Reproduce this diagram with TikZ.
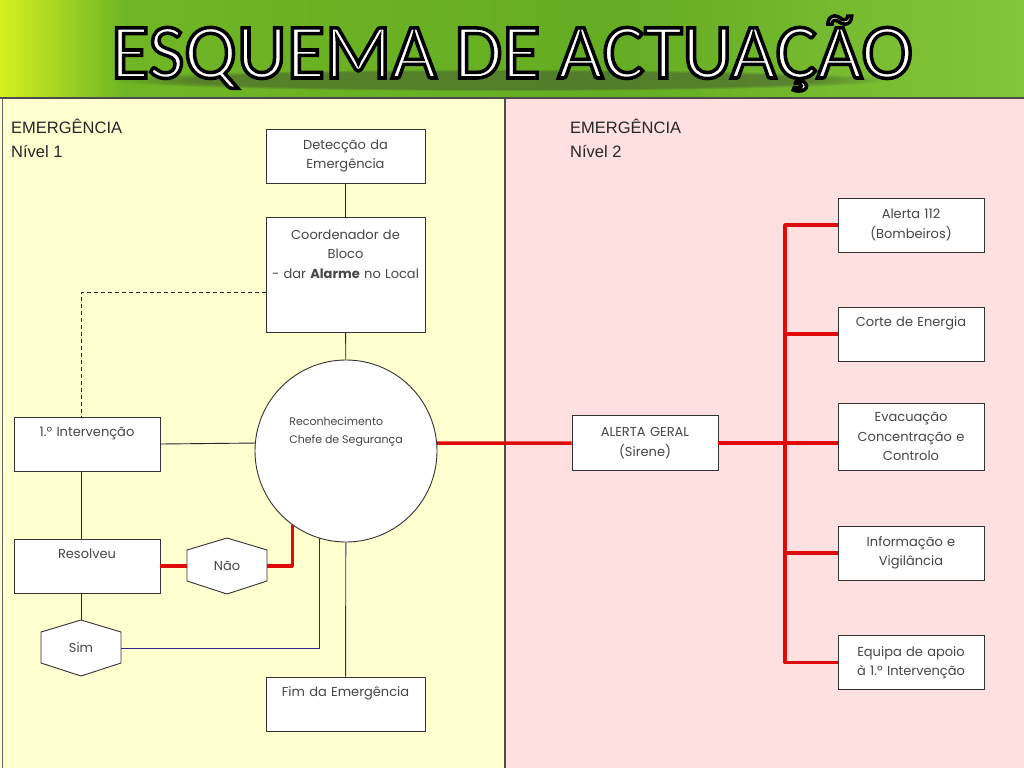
\documentclass[tikz,border=0pt]{standalone}
\usepackage{fontspec}
\setmainfont{Poppins}
\newfontfamily\titlefont{Carlito}
\newfontfamily\panelfont{Liberation Sans}
\usetikzlibrary{shapes.geometric,fadings}

\definecolor{painelamarelo}{RGB}{255,255,208}
\definecolor{painelrosa}{RGB}{255,224,224}
\definecolor{linhavermelha}{RGB}{225,10,10}
\definecolor{linhaazul}{RGB}{40,40,140}
\definecolor{textocaixa}{RGB}{70,70,70}
\definecolor{verdeA}{RGB}{212,240,32}
\definecolor{verdeB}{RGB}{112,182,36}
\definecolor{verdeC}{RGB}{100,172,34}
\definecolor{verdeD}{RGB}{132,198,58}
\definecolor{sombra}{RGB}{60,70,50}
\pgfdeclarehorizontalshading{faixaverde}{100bp}{color(0bp)=(verdeA); color(25bp)=(verdeA); color(31bp)=(verdeB); color(55bp)=(verdeC); color(75bp)=(verdeD); color(100bp)=(verdeD)}

\newcommand\boxfont{\fontsize{13}{19.5}\selectfont}
\newcommand\circfont{\fontsize{11}{18}\selectfont}

\begin{document}
\begin{tikzpicture}[x=1pt, y=-1pt,
    box/.style={rectangle, draw=black!80, fill=white, line width=0.9pt, minimum width=146pt, minimum height=54pt, text width=140pt, align=center, inner sep=0pt, font=\boxfont, text=textocaixa},
    topbox/.style={box, text height=19pt, text depth=#1},
    hexa/.style={minimum width=80pt, minimum height=56pt, inner sep=0pt, font=\boxfont, text=textocaixa},
    hexline/.style={draw=black!80, fill=white, line width=0.9pt},
    line/.style={draw=black!85, line width=0.9pt},
    dashline/.style={draw=black!85, line width=0.9pt, dash pattern=on 4pt off 3pt},
    redline/.style={draw=linhavermelha, line width=3.5pt, line join=round},
    blueline/.style={draw=linhaazul, line width=0.9pt},
    panel/.style={font=\panelfont\fontsize{16.5}{24}\selectfont, text=black!85, align=left, inner sep=0pt, anchor=base west}
]
\useasboundingbox (0,0) rectangle (1024,768);

% Title band and panels
\shade[shading=faixaverde] (0,0) rectangle (1024,98);
\fill[sombra, opacity=0.45, path fading=circle with fuzzy edge 20 percent] (500,80) ellipse [x radius=390, y radius=11];
\fill[painelamarelo] (0,98) rectangle (505,768);
\fill[painelrosa] (505,98) rectangle (1024,768);
\draw[black!70, line width=1.5pt] (0,98) -- (1024,98);
\draw[black!70, line width=1.5pt] (505,98) -- (505,768);
\draw[black!60, line width=1pt] (2,98) -- (2,768);

\node[anchor=base, inner sep=0pt, font=\titlefont\fontsize{78}{80}\selectfont] (titulo) at (512,78)
  {\color{white}\special{pdf:literal direct 2 Tr 3.5 w 0 G}ESQUEMA DE ACTUAÇÃO\special{pdf:literal direct 0 Tr}};

\node[panel] (nivel1) at (11,157) {EMERGÊNCIA\\Nível 1};
\node[panel] (nivel2) at (570,157) {EMERGÊNCIA\\Nível 2};

% Level 1 column
\node[box, minimum width=159pt] (detec) at (345.5,156) {Detecção da\\Emergência};
\node[topbox=93pt, minimum width=159pt, text width=155pt, text height=22pt] (coord) at (345.5,274.5) {Coordenador de\\Bloco\\- dar \textbf{Alarme} no Local};
\node[circle, draw=black!80, fill=white, line width=0.9pt, minimum size=182pt, inner sep=0pt, font=\circfont, text=textocaixa, align=left, text height=8pt, text depth=24pt] (chefe) at (346,451) {Reconhecimento\\Chefe de Segurança};
\node[topbox=35pt] (interv) at (87,444) {1.º Intervenção};
\node[topbox=35pt] (resolveu) at (87,566) {Resolveu};
\node[topbox=35pt, minimum width=159pt] (fim) at (345.5,704) {Fim da Emergência};

\foreach \nome/\px/\py/\txt in {nao/227/566/Não, sim/81/648/Sim} {
  \filldraw[hexline] (\px,\py) ++(0,-28) -- ++(40,12) -- ++(0,31) -- ++(-40,13) -- ++(-40,-13) -- ++(0,-31) -- cycle;
  \node[hexa] (\nome) at (\px,\py) {\txt};
}

% Level 2 column
\node[box, minimum height=55pt] (alerta) at (645,443) {ALERTA GERAL\\(Sirene)};
\node[box] (bomb) at (911,225) {Alerta 112\\(Bombeiros)};
\node[topbox=35pt] (energia) at (911,334) {Corte de Energia};
\node[box, minimum height=67pt] (evac) at (911,436.5) {Evacuação\\Concentração e\\Controlo};
\node[box] (info) at (911,553) {Informação e\\Vigilância};
\node[box] (apoio) at (911,662.5) {Equipa de apoio\\à 1.º Intervenção};
\coordinate (tronco) at (785,443);

% Level 1 connectors
\draw[line] (detec) -- (coord);
\draw[line] (coord) -- (chefe);
\draw[dashline] ([yshift=-18pt]coord.west) -| (interv.north -| sim);
\draw[line] (interv.east) -- (chefe.175);
\draw[line] (interv.south -| sim) -- (resolveu.north -| sim);
\draw[line] (resolveu.south -| sim) -- (sim.north);
\draw[redline] (resolveu.east) -- (nao.west);
\draw[redline] (nao.east) -| (chefe.234);
\draw[blueline] (sim.east) -| (chefe.253);
\draw[blueline] (chefe) -- (fim);

% Level 2 connectors
\draw[redline] (chefe.5) -- (alerta.west);
\draw[redline] (alerta.east) -- (alerta.east -| evac.west);
\draw[redline] (bomb.west) -| (apoio.west -| tronco) -- (apoio.west);
\foreach \n in {energia, info}
  \draw[redline] (\n.west) -- (\n.west -| tronco);
\end{tikzpicture}
\end{document}
